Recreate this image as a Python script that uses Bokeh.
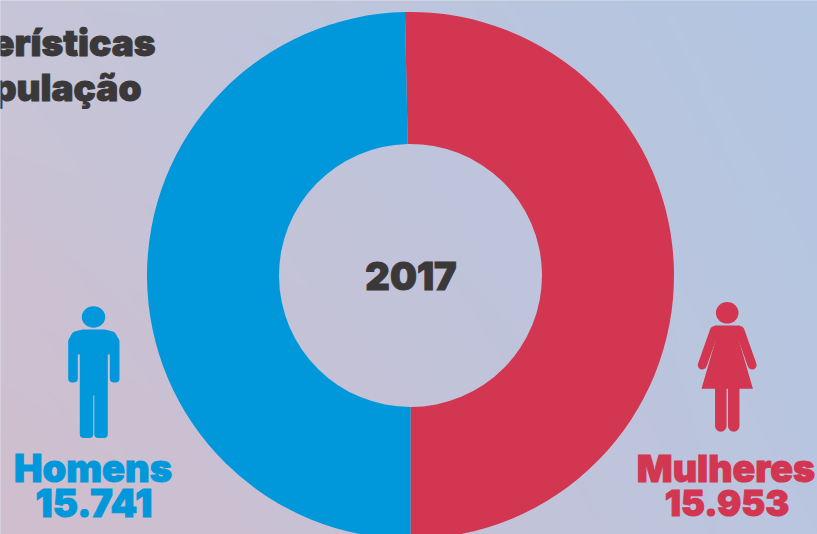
import math
import numpy as np
from bokeh.plotting import figure
from bokeh.core.properties import value
from bokeh.embed import file_html
from bokeh.resources import INLINE

W, H = 817, 534
labels = ["Mulheres", "Homens"]
values = [15953, 15741]
value_labels = ["15.953", "15.741"]
colors = ["#d23650", "#0098da"]
year = "2017"
title_lines = ["Características", "da população"]
DARK = "#3a3839"
FONT = value("Inter Black")
BASE = 14.5  # distance the svg text baseline sits below its anchor

def Y(y):
    return H - y

p = figure(width=W, height=H, x_range=(0, W), y_range=(0, H), output_backend="svg",
           toolbar_location=None, min_border=0, outline_line_color=None,
           background_fill_color="#c4c4da", border_fill_color="#c4c4da",
           styles={"position": "absolute", "left": "0", "top": "0"})
p.axis.visible = False
p.grid.visible = False

# diagonal background gradient
tl, tr = np.array([199, 197, 216.]), np.array([178, 198, 226.])
bl, br = np.array([209, 190, 205.]), np.array([186, 198, 224.])
yy, xx = np.mgrid[0:H, 0:W]
u = (xx / (W - 1))[..., None]
v = (yy / (H - 1))[..., None]
rgb = (tl * (1 - u) + tr * u) * v + (bl * (1 - u) + br * u) * (1 - v)
img = np.zeros((H, W), dtype=np.uint32)
view = img.view(dtype=np.uint8).reshape((H, W, 4))
view[..., :3] = rgb.astype(np.uint8)
view[..., 3] = 255
p.image_rgba(image=[img], x=-2, y=-2, dw=W + 4, dh=H + 4)

# donut
total = sum(values)
a = math.pi / 2 + (values[0] / total * 2 * math.pi - math.pi)
angles = [a - values[0] / total * 2 * math.pi, a]
p.annular_wedge(x=410, y=Y(275), inner_radius=131.5, outer_radius=263.5,
                start_angle=angles[0], end_angle=angles[1], color=colors[0], line_color=None)
p.annular_wedge(x=410, y=Y(275), inner_radius=131.5, outer_radius=263.5,
                start_angle=angles[1], end_angle=angles[0] + 2 * math.pi, color=colors[1], line_color=None)

# man icon
man = [(71.7, 341), (75, 335), (83, 333), (103.5, 333), (111.5, 335), (115, 341), (115, 378), (113.3, 378),
       (113.3, 350), (103.3, 350), (103.3, 433.5), (97.8, 433.5), (97.8, 391), (88.8, 391), (88.8, 433.5),
       (83.3, 433.5), (83.3, 350), (73.3, 350), (73.3, 378), (71.7, 378)]
p.patch([q[0] for q in man], [Y(q[1]) for q in man], fill_color=colors[1], line_color=colors[1],
        line_width=8, line_join="round")
p.ellipse(x=93, y=Y(316.5), width=23.5, height=21.5, color=colors[1], line_color=None)

# woman icon
dress = [(714, 325), (739.5, 325), (738.4, 340), (752.4, 388.3), (701, 388.3), (715, 340)]
p.patch([q[0] for q in dress], [Y(q[1]) for q in dress], fill_color=colors[0], line_color=None)
limbs = [[(714, 330), (701.8, 364.5)], [(739.4, 330), (751.6, 364.5)],
         [(720.3, 385), (720.3, 425.5)], [(733.2, 385), (733.2, 425.5)]]
limb_widths = [9, 9, 11.5, 11.5]
for limb, w in zip(limbs, limb_widths):
    p.line([q[0] for q in limb], [Y(q[1]) for q in limb], line_color=colors[0], line_width=w, line_cap="round")
p.ellipse(x=726.7, y=Y(312.3), width=22.6, height=21.6, color=colors[0], line_color=None)

def label(x, y, t, color, size, align="center"):
    p.text(x=[x], y=[Y(y - BASE)], text=[t], text_color=color, text_font=FONT, text_font_size=size,
           text_align=align, text_baseline="alphabetic", text_outline_color=color)

label(155, 56, title_lines[0], DARK, "37px", "right")
label(141, 101, title_lines[1], DARK, "37px", "right")
label(410.5, 290, year, DARK, "38px")
label(92.5, 482, labels[1], colors[1], "38px")
label(93.5, 517, value_labels[1], colors[1], "38px")
label(725.5, 482, labels[0], colors[0], "37.5px")
label(726.5, 517, value_labels[0], colors[0], "36px")

open("out.html", "w").write(file_html(p, INLINE))
